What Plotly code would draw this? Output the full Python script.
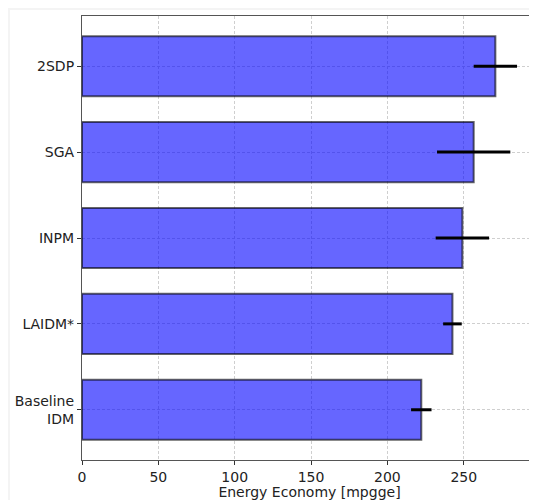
import plotly.graph_objects as go

categories = ["Baseline<br>IDM", "LAIDM*", "INPM", "SGA", "2SDP"]
values = [222.2, 242.6, 249.1, 256.5, 270.7]
errors = [6.7, 6.1, 17.5, 24.0, 14.2]
x_ticks = [0, 50, 100, 150, 200, 250]

OFF = 8  # default page body margin
W, H = 537 - OFF, 500 - OFF
L, R, T, B = 82 - OFF, 0, 16 - OFF, 40
pw, ph = W - L - R, H - T - B

def px2paper_x(p):
    return (p - OFF - L) / pw

def py2paper_y(p):
    return (H - B - (p - OFF)) / ph

fig = go.Figure()
fig.add_trace(go.Bar(
    y=list(range(len(categories))),
    x=values,
    orientation="h",
    width=0.7,
    marker=dict(color="rgba(0,0,255,0.6)", line=dict(color="rgba(0,0,0,0.6)", width=2)),
    error_x=dict(type="data", array=errors, visible=True, color="black", thickness=3, width=0),
    hoverinfo="skip",
))

# card background with faint shadow border
fig.add_shape(type="rect", xref="paper", yref="paper",
              x0=px2paper_x(10), x1=px2paper_x(600), y0=py2paper_y(600), y1=py2paper_y(10),
              fillcolor="white", line=dict(width=0), layer="below")

grid = dict(showgrid=True, gridcolor="#cfcfcf", gridwidth=1, griddash="3px,2px")
fig.update_layout(
    width=W, height=H,
    margin=dict(l=L, r=R, t=T, b=B, autoexpand=False),
    paper_bgcolor="#f4f4f4",
    plot_bgcolor="white",
    showlegend=False,
    font=dict(family="DejaVu Sans", size=14, color="#222"),
    xaxis=dict(range=[0, (537 - 82) / 1.527], tickvals=x_ticks, ticks="outside", ticklen=4,
               tickcolor="#333", showline=True, linecolor="#555", linewidth=1.2, mirror=True,
               zeroline=False, automargin=False, tickfont=dict(size=14),
               title=dict(text="Energy Economy [mpgge]", standoff=0, font=dict(size=14)), **grid),
    yaxis=dict(range=[-0.585, 4.585], tickvals=list(range(len(categories))), ticktext=categories,
               ticks="outside", ticklen=4, tickcolor="#333", showline=True, linecolor="#555",
               linewidth=1.2, mirror=True, zeroline=False, automargin=False,
               tickfont=dict(size=14), **grid),
)
fig.write_html("out.html")
